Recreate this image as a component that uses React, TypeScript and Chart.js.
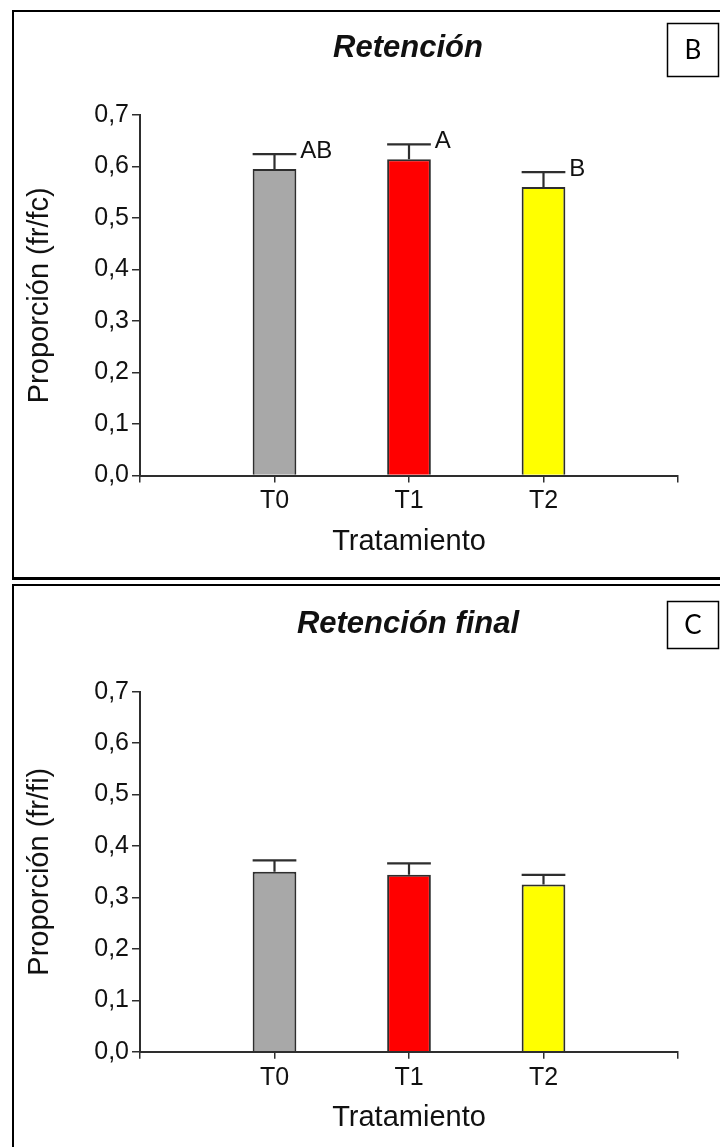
import { useEffect, useRef } from 'react';
import { Chart, registerables } from 'chart.js';

Chart.register(...registerables);

// Treatments on the x axis and their bar colours
const categories = ['T0', 'T1', 'T2'];
const barColors = ['#a8a8a8', '#ff0000', '#ffff00'];
const yTickLabels = ['0,0', '0,1', '0,2', '0,3', '0,4', '0,5', '0,6', '0,7'];

// Panel B: retention (fr/fc), mean + SE, with significance letters
const retencion = [0.595, 0.614, 0.56];
const retencionErr = [0.029, 0.029, 0.029];
const retencionLetters = ['AB', 'A', 'B'];

// Panel C: final retention (fr/fi), mean + SE
const retencionFinal = [0.35, 0.344, 0.325];
const retencionFinalErr = [0.022, 0.022, 0.019];

const SANS = '"Liberation Sans", Arial, Helvetica, sans-serif';
const INK = '#111';
const LINE = '#2e2e2e';

type Frame = {
  top: number;
  height: number;
  plotTop: number;
  plotBottom: number;
  plotLeft: number;
  plotRight: number;
  titleY: number;
  xTitleY: number;
  tagTop: number;
  tagBottom: number;
};

// Upper error whiskers with caps the width of the bar, plus optional letters
const errorBarPlugin = {
  id: 'errorBars',
  afterDatasetsDraw(chart: any, _args: any, opts: any) {
    const meta = chart.getDatasetMeta(0);
    const yScale = chart.scales.y;
    const ctx = chart.ctx as CanvasRenderingContext2D;
    ctx.save();
    ctx.strokeStyle = LINE;
    ctx.lineWidth = 2.2;
    meta.data.forEach((bar: any, i: number) => {
      const { x, y, width } = bar.getProps(['x', 'y', 'width'], true);
      const top = yScale.getPixelForValue(opts.values[i] + opts.errors[i]);
      ctx.beginPath();
      ctx.moveTo(x, y);
      ctx.lineTo(x, top);
      ctx.moveTo(x - width / 2, top);
      ctx.lineTo(x + width / 2, top);
      ctx.stroke();
      const letter = opts.letters ? opts.letters[i] : '';
      if (letter) {
        ctx.fillStyle = INK;
        ctx.font = `24px ${SANS}`;
        ctx.textAlign = 'left';
        ctx.textBaseline = 'middle';
        ctx.fillText(letter, x + width / 2 + 4, top - 3);
      }
    });
    ctx.restore();
  },
};

// Panel heading and the boxed panel tag in the corner
const decorPlugin = {
  id: 'panelDecor',
  afterDraw(chart: any, _args: any, opts: any) {
    const ctx = chart.ctx as CanvasRenderingContext2D;
    ctx.save();
    ctx.fillStyle = INK;
    ctx.font = `italic bold 31px ${SANS}`;
    ctx.textAlign = 'center';
    ctx.textBaseline = 'middle';
    ctx.fillText(opts.title, 408, opts.titleY);

    ctx.strokeStyle = '#000';
    ctx.lineWidth = 1.5;
    ctx.strokeRect(667.5, opts.tagTop + 0.5, 51, opts.tagBottom - opts.tagTop);
    ctx.font = `26px Lato, "Open Sans", sans-serif`;
    ctx.fillStyle = '#000';
    ctx.fillText(opts.tag, 693, (opts.tagTop + opts.tagBottom) / 2 + 1);
    ctx.restore();
  },
};

type PanelProps = {
  title: string;
  tag: string;
  yTitle: string;
  values: number[];
  errors: number[];
  letters?: string[];
  frame: Frame;
};

function Panel({ title, tag, yTitle, values, errors, letters, frame }: PanelProps) {
  const ref = useRef<HTMLCanvasElement>(null);

  useEffect(() => {
    const canvas = ref.current;
    if (!canvas) return;
    const axisTitleSize = 29;
    const half = (axisTitleSize * 1.2) / 2;
    const chart = new Chart(canvas, {
      type: 'bar',
      data: {
        datasets: [
          {
            data: categories.map((_c, i) => ({ x: i, y: values[i] })) as any,
            backgroundColor: barColors,
            borderColor: LINE,
            borderWidth: 2,
            borderSkipped: 'start',
            barPercentage: 0.325,
            categoryPercentage: 1,
          },
        ],
      },
      options: {
        animation: false,
        responsive: false,
        events: [],
        layout: {
          padding: { top: frame.plotTop, left: 0, right: 720 - frame.plotRight, bottom: 0 },
        },
        plugins: {
          legend: { display: false },
          tooltip: { enabled: false },
          errorBars: { values, errors, letters },
          panelDecor: {
            title,
            tag,
            titleY: frame.titleY,
            tagTop: frame.tagTop,
            tagBottom: frame.tagBottom,
          },
        } as any,
        scales: {
          x: {
            type: 'linear',
            min: -1,
            max: 3,
            offset: false,
            afterFit: (s: any) => {
              s.height = frame.height - frame.plotBottom;
            },
            ticks: {
              stepSize: 1,
              autoSkip: false,
              maxRotation: 0,
              padding: 4,
              color: INK,
              font: { family: SANS, size: 25 },
              callback: (v: any) => categories[v as number] ?? '',
            },
            grid: {
              offset: false,
              drawOnChartArea: false,
              drawTicks: true,
              tickLength: 7,
              color: LINE,
              lineWidth: 1.5,
            },
            border: { display: true, color: LINE, width: 2 },
            title: {
              display: true,
              text: 'Tratamiento',
              color: INK,
              font: { family: SANS, size: axisTitleSize },
              padding: { top: 0, bottom: frame.height - frame.xTitleY - half },
            },
          } as any,
          y: {
            min: 0,
            max: 0.7,
            afterFit: (s: any) => {
              s.width = frame.plotLeft;
            },
            ticks: {
              stepSize: 0.1,
              padding: 3,
              color: INK,
              font: { family: SANS, size: 25 },
              callback: (v: any) => yTickLabels[Math.round((v as number) * 10)],
            },
            grid: {
              drawOnChartArea: false,
              drawTicks: true,
              tickLength: 8,
              color: LINE,
              lineWidth: 1.5,
            },
            border: { display: true, color: LINE, width: 2 },
            title: {
              display: true,
              text: yTitle,
              color: INK,
              font: { family: SANS, size: axisTitleSize },
              padding: { top: 40 - half, bottom: 0 },
            },
          },
        },
      },
      plugins: [errorBarPlugin, decorPlugin],
    });
    return () => chart.destroy();
  }, []);

  return (
    <canvas
      ref={ref}
      width={720}
      height={frame.height}
      style={{ position: 'absolute', left: 0, top: frame.top, display: 'block' }}
    />
  );
}

const frameB: Frame = {
  top: 0,
  height: 582,
  plotTop: 115,
  plotBottom: 475.5,
  plotLeft: 140,
  plotRight: 678,
  titleY: 48,
  xTitleY: 542,
  tagTop: 23,
  tagBottom: 76,
};

const frameC: Frame = {
  top: 582,
  height: 565,
  plotTop: 109.7,
  plotBottom: 469.7,
  plotLeft: 140,
  plotRight: 678,
  titleY: 42,
  xTitleY: 536,
  tagTop: 19,
  tagBottom: 66,
};

export default function App() {
  return (
    <div
      style={{
        position: 'absolute',
        left: 0,
        top: 0,
        width: 720,
        height: 1147,
        overflow: 'hidden',
        background: '#fff',
      }}
    >
      <div
        style={{
          position: 'absolute',
          left: 12,
          top: 10,
          width: 740,
          height: 570,
          boxSizing: 'border-box',
          borderStyle: 'solid',
          borderColor: '#000',
          borderWidth: '2px 2px 3px 2px',
        }}
      />
      <div
        style={{
          position: 'absolute',
          left: 12,
          top: 584,
          width: 740,
          height: 600,
          boxSizing: 'border-box',
          border: '2px solid #000',
        }}
      />
      <Panel
        title="Retención"
        tag="B"
        yTitle="Proporción (fr/fc)"
        values={retencion}
        errors={retencionErr}
        letters={retencionLetters}
        frame={frameB}
      />
      <Panel
        title="Retención final"
        tag="C"
        yTitle="Proporción (fr/fi)"
        values={retencionFinal}
        errors={retencionFinalErr}
        frame={frameC}
      />
    </div>
  );
}
